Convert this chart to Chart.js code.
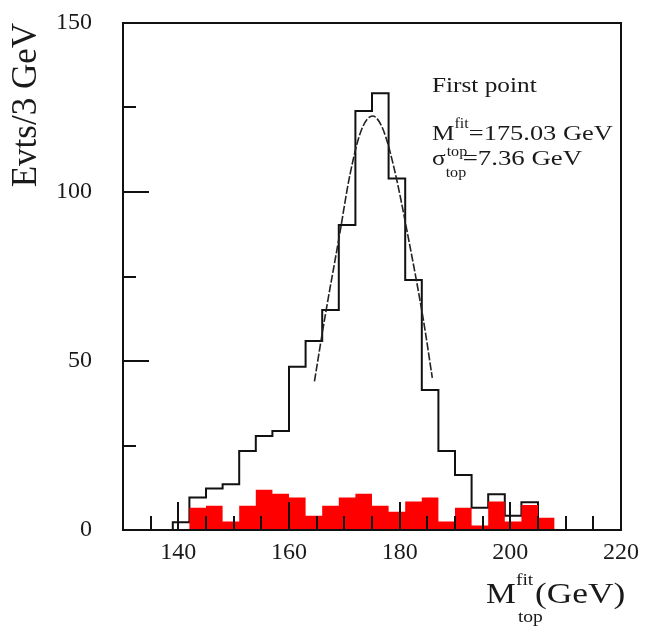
<!DOCTYPE html>
<html>
<head>
<meta charset="utf-8">
<script src="https://cdn.jsdelivr.net/npm/chart.js@4.4.1/dist/chart.umd.min.js"></script>
<style>
  html, body { margin: 0; padding: 0; background: #fff; }
  canvas { display: block; }
</style>
</head>
<body>
<canvas id="mtop" width="649" height="630"></canvas>
<script>
// lower edges of the 3 GeV bins
const binLow = [139, 142, 145, 148, 151, 154, 157, 160, 163, 166, 169, 172,
                175, 178, 181, 184, 187, 190, 193, 196, 199, 202, 205];
const binWidth = 3;

// all selected events (open histogram)
const allEvents = [2.3, 9.6, 12.3, 13.5, 23.4, 27.8, 29.3, 48.3, 55.9, 65.1, 90.2, 124.0,
                   129.2, 104.0, 74.0, 41.4, 23.4, 16.3, 6.6, 10.6, 4.2, 8.2, 0];

// background contribution (filled histogram)
const background = [0, 6.6, 7.2, 2.5, 7.2, 11.9, 10.7, 9.6, 4.2, 7.2, 9.6, 10.7,
                    7.2, 5.4, 8.4, 9.6, 2.5, 6.6, 1.3, 8.4, 2.5, 7.4, 3.6];

// gaussian fit over the peak
const fitX = [164.6, 166.5, 169.1, 171, 173, 175.1, 177, 179, 181.5, 184.3, 185.9];
const fitY = [44, 63, 87, 105, 118, 122.5, 118.5, 107, 87, 62, 45];
const fitMean = 175.03;
const fitSigma = 7.36;

const xTickLabels = [140, 160, 180, 200, 220];
const xMinorTicks = [135, 145, 150, 155, 165, 170, 175, 185, 190, 195, 205, 210, 215];
const yTickLabels = [0, 50, 100, 150];
const yMinorTicks = [25, 75, 125];

const SERIF = '"Liberation Serif", "Times New Roman", serif';

// turn bin contents into points for a step-before line
function stepPoints(counts) {
    const pts = [{ x: binLow[0], y: 0 }];
    counts.forEach((c, i) => pts.push({ x: binLow[i], y: c }));
    pts.push({ x: binLow[binLow.length - 1] + binWidth, y: 0 });
    return pts;
}

// text slightly widened, returns drawn width
function wideText(ctx, str, x, y, size, sx) {
    ctx.save();
    ctx.font = size + 'px ' + SERIF;
    ctx.translate(x, y);
    ctx.scale(sx, 1);
    ctx.fillText(str, 0, 0);
    const w = ctx.measureText(str).width * sx;
    ctx.restore();
    return w;
}

// frame and inward ticks, drawn over the histograms
const frameAndTicks = {
    id: 'frameAndTicks',
    afterDatasetsDraw(chart) {
        const { ctx, chartArea: a, scales: { x, y } } = chart;
        ctx.save();
        ctx.strokeStyle = '#111';
        ctx.lineWidth = 2;
        ctx.beginPath();
        xTickLabels.forEach(v => {
            const px = Math.round(x.getPixelForValue(v));
            ctx.moveTo(px, a.bottom);
            ctx.lineTo(px, a.bottom - 28);
        });
        xMinorTicks.forEach(v => {
            const px = Math.round(x.getPixelForValue(v));
            ctx.moveTo(px, a.bottom);
            ctx.lineTo(px, a.bottom - 14);
        });
        yTickLabels.forEach(v => {
            const py = Math.round(y.getPixelForValue(v));
            ctx.moveTo(a.left, py);
            ctx.lineTo(a.left + 26, py);
        });
        yMinorTicks.forEach(v => {
            const py = Math.round(y.getPixelForValue(v));
            ctx.moveTo(a.left, py);
            ctx.lineTo(a.left + 13, py);
        });
        ctx.stroke();
        ctx.strokeRect(a.left, a.top, a.right - a.left, a.bottom - a.top);
        ctx.restore();
    }
};

// x axis title with sub/superscripts and the fit summary
const labels = {
    id: 'labels',
    afterDraw(chart) {
        const { ctx, chartArea: a } = chart;
        ctx.save();
        ctx.fillStyle = '#1a1a1a';
        ctx.textBaseline = 'alphabetic';

        // M_top^fit (GeV)
        const xt = a.left + 363;
        const wM = wideText(ctx, 'M', xt, a.bottom + 73, 30, 1.12);
        wideText(ctx, 'fit', xt + wM, a.bottom + 55, 17, 1.15);
        wideText(ctx, 'top', xt + wM + 2, a.bottom + 92, 17, 1.15);
        wideText(ctx, '(GeV)', xt + wM + 19, a.bottom + 73, 30, 1.18);

        // fit summary
        const x0 = a.left + 309;
        wideText(ctx, 'First point', x0, a.top + 69, 22, 1.15);
        const wM2 = wideText(ctx, 'M', x0, a.top + 117, 22, 1.15);
        const wFit = wideText(ctx, 'fit', x0 + wM2, a.top + 105, 14, 1.15);
        wideText(ctx, '=' + fitMean.toFixed(2) + ' GeV', x0 + wM2 + wFit, a.top + 117, 22, 1.2);
        const wS = wideText(ctx, '\u03c3', x0, a.top + 142, 22, 1.15);
        wideText(ctx, 'top', x0 + wS, a.top + 154, 14, 1.15);
        wideText(ctx, 'top', x0 + wS + 1, a.top + 133, 14, 1.15);
        wideText(ctx, '=' + fitSigma.toFixed(2) + ' GeV', x0 + wS + 17, a.top + 142, 22, 1.22);
        ctx.restore();
    }
};

new Chart(document.getElementById('mtop'), {
    type: 'line',
    data: {
        datasets: [
            {
                label: 'fit',
                data: fitX.map((v, i) => ({ x: v, y: fitY[i] })),
                borderColor: '#222',
                borderWidth: 1.6,
                borderDash: [8, 2],
                cubicInterpolationMode: 'monotone',
                pointRadius: 0,
                fill: false,
                order: 0
            },
            {
                label: 'background',
                data: stepPoints(background),
                stepped: 'before',
                borderColor: 'rgba(0,0,0,0)',
                borderWidth: 0,
                backgroundColor: '#ff0000',
                pointRadius: 0,
                fill: 'origin',
                order: 1
            },
            {
                label: 'all',
                data: stepPoints(allEvents),
                stepped: 'before',
                borderColor: '#111',
                borderWidth: 2,
                pointRadius: 0,
                fill: false,
                order: 2
            }
        ]
    },
    options: {
        responsive: false,
        animation: false,
        devicePixelRatio: 1,
        layout: { padding: { left: 0, right: 28, top: 23, bottom: 60 } },
        plugins: {
            legend: { display: false },
            tooltip: { enabled: false }
        },
        scales: {
            x: {
                type: 'linear',
                min: 130,
                max: 220,
                grid: { display: false, drawTicks: false },
                border: { display: false },
                afterBuildTicks: s => { s.ticks = xTickLabels.map(v => ({ value: v })); },
                afterFit: s => { s.height = 40; s.paddingLeft = 0; s.paddingRight = 0; },
                ticks: {
                    color: '#1a1a1a',
                    padding: 8,
                    maxRotation: 0,
                    font: { family: SERIF, size: 24 }
                }
            },
            y: {
                type: 'linear',
                min: 0,
                max: 150,
                grid: { display: false, drawTicks: false },
                border: { display: false },
                afterBuildTicks: s => { s.ticks = yTickLabels.map(v => ({ value: v })); },
                // labels sit well left of the frame; keep that gap out of the top/bottom padding
                afterFit: s => { s.width = 123; s.paddingTop = 0; s.paddingBottom = 0; },
                ticks: {
                    color: '#1a1a1a',
                    padding: 31,
                    font: { family: SERIF, size: 24 }
                },
                title: {
                    display: true,
                    text: 'Evts/3 GeV',
                    align: 'end',
                    color: '#1a1a1a',
                    padding: { top: 6, bottom: 0 },
                    font: { family: SERIF, size: 35 }
                }
            }
        }
    },
    plugins: [frameAndTicks, labels]
});
</script>
</body>
</html>
